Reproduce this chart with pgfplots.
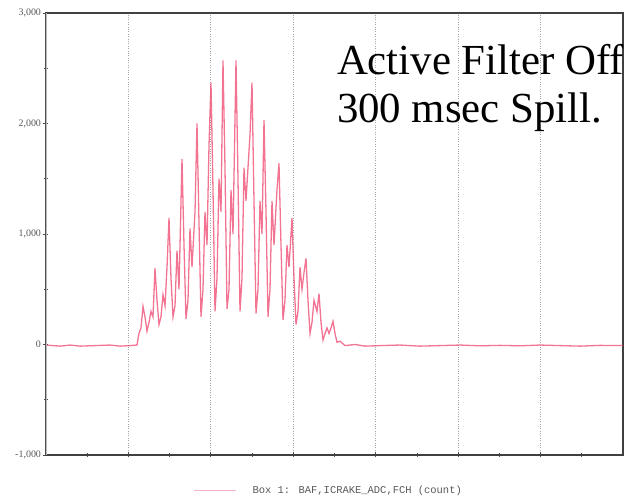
\documentclass[border=0pt]{standalone}
\usepackage{pgfplots}
\pgfplotsset{compat=1.18}
\usepackage{fontspec}
\setmainfont{Liberation Serif}
\newfontfamily\monofont{Liberation Mono}
\definecolor{sig}{RGB}{238,70,110}
\begin{document}
\begin{tikzpicture}
\begin{axis}[
  scale only axis,
  width=577bp, height=442bp,
  xmin=0, xmax=577, ymin=-1000, ymax=3000,
  xtick={82.43,164.86,247.29,329.71,412.14,494.57},
  minor xtick={41.21,123.64,206.07,288.5,370.93,453.36,535.79},
  xticklabels={},
  ytick={-1000,0,1000,2000,3000},
  minor ytick={-500,500,1500,2500},
  xtick pos=left, ytick pos=left,
  tick align=center,
  major tick length=5bp, minor tick length=4bp,
  every tick/.style={black!70, line width=0.8pt},
  xmajorgrids,
  major x grid style={gray!70, dotted, line width=0.8pt},
  axis line style={black!75, line width=1.1pt},
  tick label style={font=\fontsize{10}{11}\selectfont, text=black!65},
  /pgf/number format/assume math mode=true,
  /pgf/number format/1000 sep={,},
  yticklabel style={xshift=1bp},
  legend style={at={(0.49,-0.081)}, anchor=center, draw=none, fill=none,
    font=\fontsize{10.5}{11}\monofont\color{black!65}},
  legend image code/.code={\draw[sig!55, line width=1pt] (0bp,0bp) -- (42bp,0bp);},
]
\addplot[sig, line width=1.3pt, opacity=0.75] coordinates {
(0,-5)(14,-15)(24,-5)(34,-15)(49,-10)(64,-5)(74,-15)(84,-10)(91,-5)
(93,100)(95,150)(97,345)(99,250)(101,120)(103,200)(105,300)(107,250)
(109,690)(111,400)(113,180)(115,250)(117,450)(119,350)(121,700)(123,1145)
(125,600)(127,250)(129,350)(131,850)(133,500)(136,1680)(138,900)(140,230)
(142,400)(144,1050)(146,700)(149,1200)(151,2000)(153,1100)(155,250)(157,500)
(159,1200)(161,900)(163,1800)(165,2370)(167,1400)(169,300)(171,600)(173,1500)
(175,1200)(177,2570)(179,1600)(181,320)(183,500)(185,1400)(187,1000)(190,2570)
(192,1500)(194,300)(196,600)(198,1600)(200,1300)(204,1900)(206,2370)(208,1300)
(210,280)(212,500)(214,1300)(216,1000)(218,2030)(220,1200)(222,250)(224,500)
(226,1300)(228,900)(231,1400)(233,1640)(235,900)(237,220)(239,400)(241,900)
(243,700)(246,1145)(248,600)(250,180)(252,300)(254,700)(256,500)(258,650)
(260,780)(262,400)(264,100)(266,200)(268,400)(271,300)(273,460)(275,200)
(277,40)(279,100)(281,150)(283,100)(285,150)(287,210)(289,100)(291,20)
(294,30)(299,-10)
(309,0)(319,-15)(334,-10)(354,-5)(374,-15)(394,-10)(414,-5)(434,-12)
(454,-8)(474,-12)(494,-5)(514,-10)(534,-15)(554,-8)(577,-10)
};
\addlegendentry{\hspace{14bp}Box 1: BAF,ICRAKE\_ADC,FCH (count)}
\draw[gray!55, line width=1.1pt] (rel axis cs:0,0) -- (rel axis cs:0,1);
\node[anchor=base west, inner sep=0pt, font=\fontsize{43}{47}\selectfont]
  at (rel axis cs:0.504,0.860) {Active Filter Off};
\node[anchor=base west, inner sep=0pt, font=\fontsize{43}{47}\selectfont]
  at (rel axis cs:0.504,0.753) {300 msec Spill.};
\end{axis}
\pgfresetboundingbox
\path[use as bounding box] ([shift={(-46bp,-49bp)}]current axis.south west) rectangle ([shift={(7bp,13bp)}]current axis.north east);
\end{tikzpicture}
\end{document}
